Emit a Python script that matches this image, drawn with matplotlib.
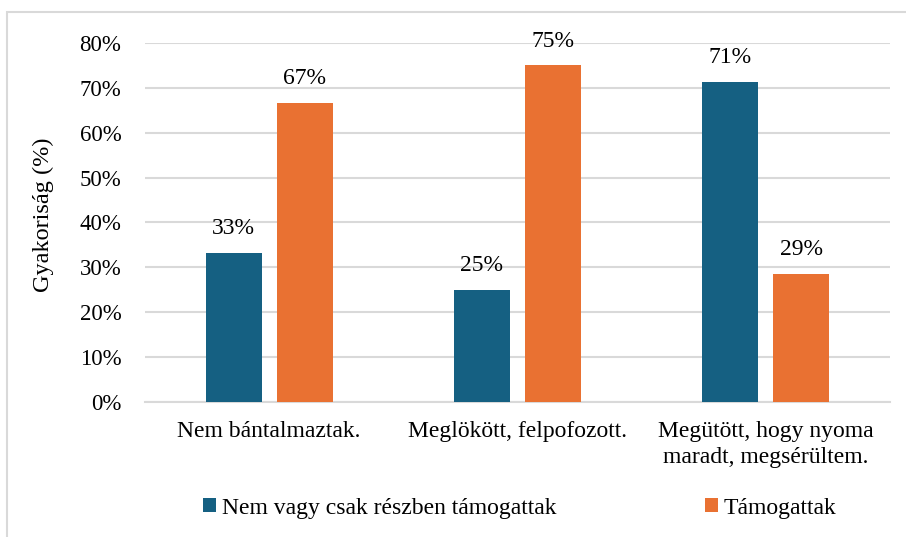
import matplotlib.pyplot as plt
from matplotlib.patches import Rectangle
import numpy as np

plt.rcParams['font.family'] = ['Liberation Serif', 'DejaVu Serif']

CATEGORIES = ["Nem bántalmaztak.", "Meglökött, felpofozott.",
              "Megütött, hogy nyoma\nmaradt, megsérültem."]
SERIES_NAMES = ["Nem vagy csak részben támogattak", "Támogattak"]
not_supported = [33.3, 25.0, 71.4]
supported = [66.7, 75.0, 28.6]
Y_TICKS = [0, 10, 20, 30, 40, 50, 60, 70, 80]

BLUE = "#156082"
ORANGE = "#E97132"
GRID = "#D9D9D9"

fig = plt.figure(figsize=(9.06, 5.37), dpi=100)
ax = fig.add_axes([0.160, 0.2514, 0.822, 0.6686])

# chart frame (cropped at right/bottom in the original)
fig.patches.append(Rectangle((7 / 906, -0.1), 1.2, 1 - 12 / 537 + 0.1,
                             transform=fig.transFigure, fill=False,
                             edgecolor=GRID, linewidth=1.5))

x = np.arange(len(CATEGORIES))
w = 0.226
off = 0.143
b1 = ax.bar(x - off, not_supported, w, color=BLUE, label=SERIES_NAMES[0], zorder=3)
b2 = ax.bar(x + off, supported, w, color=ORANGE, label=SERIES_NAMES[1], zorder=3)

for bars in (b1, b2):
    for r in bars:
        ax.annotate("%d%%" % round(r.get_height()),
                    (r.get_x() + r.get_width() / 2, r.get_height()),
                    xytext=(0, 10), textcoords="offset points",
                    ha="center", va="bottom", fontsize=17)

ax.set_xlim(-0.5, len(CATEGORIES) - 0.5)
ax.set_ylim(0, 80)
ax.set_yticks(Y_TICKS)
ax.set_yticklabels(["%d%%" % v for v in Y_TICKS], fontsize=16.5)
ax.set_xticks(x)
ax.set_xticklabels(CATEGORIES, fontsize=17, linespacing=1.3)
ax.tick_params(length=0)
ax.tick_params(axis="x", pad=14)
ax.tick_params(axis="y", pad=17)
ax.grid(axis="y", color=GRID, linewidth=1.5, zorder=0)
for s in ["top", "right", "left"]:
    ax.spines[s].set_visible(False)
ax.spines["bottom"].set_color(GRID)
ax.spines["bottom"].set_linewidth(1.5)

fig.text(43 / 906, 1 - 215 / 537, "Gyakoriság (%)", rotation=90,
         ha="center", va="center", fontsize=17.5)

fig.legend(handles=[b1, b2], loc="center", bbox_to_anchor=(0.5735, 0.054),
           ncol=2, frameon=False, fontsize=17, handlelength=0.55,
           handleheight=0.55, handletextpad=0.25, columnspacing=6.3)

fig.savefig("out.png", dpi=100)
